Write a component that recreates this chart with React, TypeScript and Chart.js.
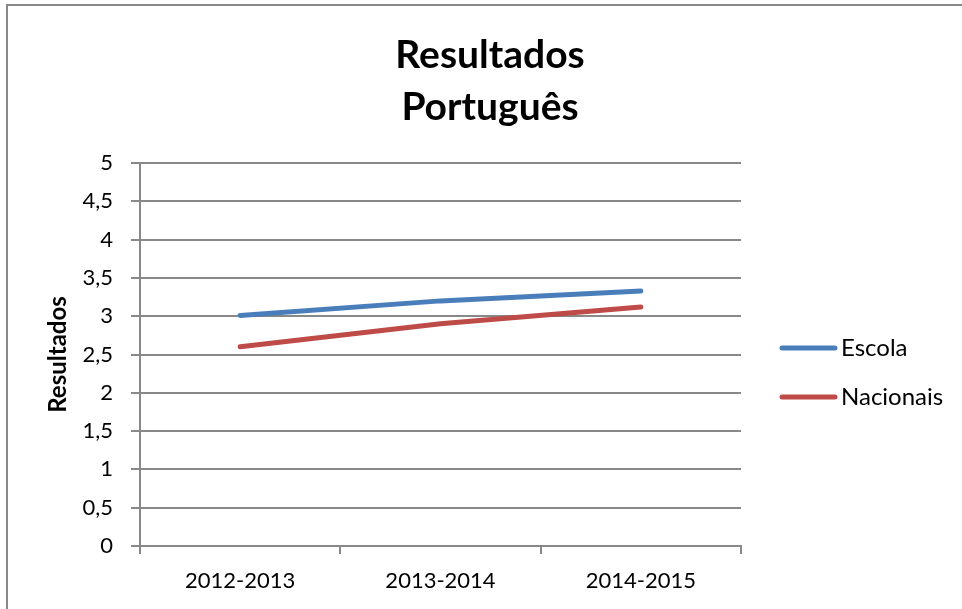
import React, { useEffect, useRef } from "react";
import { Chart, registerables } from "chart.js";

Chart.register(...registerables);

const categories = ["2012-2013", "2013-2014", "2014-2015"];
const escola = [3.01, 3.2, 3.33];
const nacionais = [2.6, 2.9, 3.12];
const seriesNames = ["Escola", "Nacionais"];
const seriesColors = ["#4A7EBB", "#BE4B48"];
const titleLines = ["Resultados", "Português"];
const yAxisTitle = "Resultados";

const FONT = "Lato";
const GRID = "#888888";

const frameBorder = {
  id: "frameBorder",
  beforeDraw(chart: any) {
    const ctx = chart.ctx;
    ctx.save();
    ctx.fillStyle = "#ffffff";
    ctx.fillRect(0, 0, chart.width, chart.height);
    ctx.strokeStyle = GRID;
    ctx.lineWidth = 2;
    ctx.beginPath();
    ctx.moveTo(7, chart.height);
    ctx.lineTo(7, 5);
    ctx.lineTo(chart.width, 5);
    ctx.stroke();
    ctx.restore();
  },
};

const chartTitle = {
  id: "chartTitle",
  afterDraw(chart: any) {
    const ctx = chart.ctx;
    ctx.save();
    ctx.fillStyle = "#000000";
    ctx.font = `bold 39px ${FONT}`;
    ctx.textAlign = "center";
    ctx.textBaseline = "middle";
    const cx = chart.width / 2 + 9;
    titleLines.forEach((t, i) => {
      ctx.fillText(t, cx, 55 + i * 52);
    });
    ctx.restore();
  },
};

const sideLegend = {
  id: "sideLegend",
  afterDraw(chart: any) {
    const ctx = chart.ctx;
    const area = chart.chartArea;
    const cy = (area.top + area.bottom) / 2 + 18;
    const x0 = area.right + 41;
    const gap = 49;
    const n = chart.data.datasets.length;
    ctx.save();
    chart.data.datasets.forEach((ds: any, i: number) => {
      const y = cy + (i - (n - 1) / 2) * gap;
      ctx.strokeStyle = ds.borderColor;
      ctx.lineWidth = 5;
      ctx.lineCap = "round";
      ctx.beginPath();
      ctx.moveTo(x0, y);
      ctx.lineTo(x0 + 53, y);
      ctx.stroke();
      ctx.fillStyle = "#000000";
      ctx.font = `24px ${FONT}`;
      ctx.textBaseline = "middle";
      ctx.textAlign = "left";
      ctx.fillText(ds.label, x0 + 59, y);
    });
    ctx.restore();
  },
};

export default function App() {
  const ref = useRef<HTMLCanvasElement | null>(null);

  useEffect(() => {
    if (!ref.current) return;
    const chart = new Chart(ref.current, {
      type: "line",
      data: {
        labels: categories,
        datasets: [
          {
            label: seriesNames[0],
            data: escola,
            borderColor: seriesColors[0],
            backgroundColor: seriesColors[0],
            borderWidth: 5,
            borderCapStyle: "round",
            pointRadius: 0,
            tension: 0,
          },
          {
            label: seriesNames[1],
            data: nacionais,
            borderColor: seriesColors[1],
            backgroundColor: seriesColors[1],
            borderWidth: 5,
            borderCapStyle: "round",
            pointRadius: 0,
            tension: 0,
          },
        ],
      },
      options: {
        animation: false,
        responsive: false,
        maintainAspectRatio: false,
        layout: { padding: { left: 0, right: 221, top: 163, bottom: 0 } },
        plugins: {
          legend: { display: false },
          tooltip: { enabled: false },
          title: { display: false },
        },
        scales: {
          x: {
            type: "category",
            offset: true,
            afterFit(scale: any) {
              scale.height = 63;
            },
            grid: {
              offset: true,
              drawOnChartArea: false,
              drawTicks: true,
              tickLength: 8,
              color: GRID,
              lineWidth: 2,
            },
            border: { display: true, color: GRID, width: 2 },
            ticks: {
              color: "#000000",
              padding: 14,
              maxRotation: 0,
              font: { family: FONT, size: 22 },
            },
          },
          y: {
            min: 0,
            max: 5,
            afterFit(scale: any) {
              scale.width = 140;
            },
            grid: {
              color: GRID,
              lineWidth: 2,
              tickLength: 9,
              drawTicks: true,
            },
            border: { display: true, color: GRID, width: 2 },
            ticks: {
              stepSize: 0.5,
              color: "#000000",
              padding: 18,
              font: { family: FONT, size: 22 },
              callback: (v: any) => String(v).replace(".", ","),
            },
            title: {
              display: true,
              text: yAxisTitle,
              color: "#000000",
              font: { family: FONT, size: 24, weight: "bold", lineHeight: 1.2 },
              padding: { top: 44, bottom: 0 },
            },
          },
        },
      },
      plugins: [frameBorder, chartTitle, sideLegend],
    });
    return () => chart.destroy();
  }, []);

  return (
    <div style={{ position: "fixed", left: 0, top: 0, width: 962, height: 609, background: "#fff" }}>
      <canvas ref={ref} width={962} height={609} style={{ display: "block", width: 962, height: 609 }} />
    </div>
  );
}
